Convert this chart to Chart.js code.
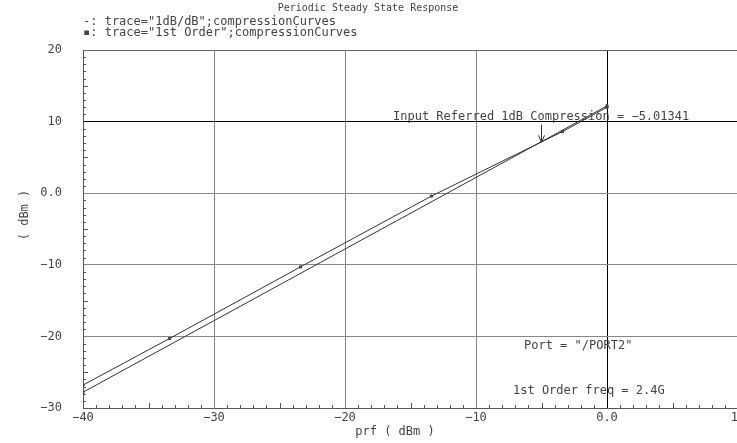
<!DOCTYPE html>
<html lang="en">
<head>
<meta charset="UTF-8">
<title>Periodic Steady State Response</title>
<style>
  html, body { margin: 0; padding: 0; background: #fff; overflow: hidden; }
  #wrap { width: 743px; height: 443px; position: relative; }
</style>
<script src="https://cdn.jsdelivr.net/npm/chart.js"></script>
</head>
<body>
<div id="wrap"><canvas id="pssChart"></canvas></div>
<script>
// prf (dBm) -> output (dBm)
const prfFirstOrder = [-40, -33.4, -23.4, -13.4, -3.4, 0];
const outFirstOrder = [-26.8, -20.3, -10.3, -0.4, 8.6, 12.0];
const prfRef = [-40, 0];
const outRef = [-27.8, 12.2];
const xTicks = [-40, -30, -20, -10, 0, 10];
const yTicks = [-30, -20, -10, 0, 10, 20];
const compressionIn = -5.01341;
const compressionOut = 7.1;

const titleText = 'Periodic Steady State Response';
const legendLines = ['-: trace="1dB/dB";compressionCurves', '▪: trace="1st Order";compressionCurves'];
const compLabel = 'Input Referred 1dB Compression = −5.01341';
const portLabel = 'Port = "/PORT2"';
const freqLabel = '1st Order freq = 2.4G';
const xTitle = 'prf ( dBm )';
const yTitle = '( dBm )';

const mono = 'DejaVu Sans Mono';
const textColor = '#444';

function fmtTick(v) {
    if (v === 0) return '0.0';
    return (v < 0 ? '−' : '') + Math.abs(v);
}

// minor ticks, annotations and labels drawn on top
const overlayPlugin = {
    id: 'overlay',
    afterDraw(chart) {
        const { ctx, chartArea, scales } = chart;
        const xs = scales.x, ys = scales.y;
        ctx.save();

        ctx.strokeStyle = '#555';
        ctx.lineWidth = 1;
        ctx.beginPath();
        for (let v = xs.min + 1; v < xs.max; v++) {
            if (v % 10 === 0) continue;
            const px = Math.round(xs.getPixelForValue(v)) + 0.5;
            const len = v % 5 === 0 ? 5 : 3;
            ctx.moveTo(px, chartArea.bottom);
            ctx.lineTo(px, chartArea.bottom - len);
        }
        for (let v = ys.min + 1; v < ys.max; v++) {
            if (v % 10 === 0) continue;
            const py = Math.round(ys.getPixelForValue(v)) + 0.5;
            const len = v % 5 === 0 ? 5 : 3;
            ctx.moveTo(chartArea.left, py);
            ctx.lineTo(chartArea.left + len, py);
        }
        ctx.stroke();

        // compression arrow
        const ax = Math.round(xs.getPixelForValue(compressionIn)) + 0.5;
        const ay1 = ys.getPixelForValue(10) + 3;
        const ay2 = ys.getPixelForValue(compressionOut);
        ctx.strokeStyle = '#333';
        ctx.beginPath();
        ctx.moveTo(ax, ay1);
        ctx.lineTo(ax, ay2);
        ctx.moveTo(ax - 3, ay2 - 7);
        ctx.lineTo(ax, ay2);
        ctx.lineTo(ax + 3, ay2 - 7);
        ctx.stroke();

        ctx.fillStyle = textColor;
        ctx.textBaseline = 'middle';

        ctx.font = '10px "' + mono + '"';
        ctx.textAlign = 'center';
        ctx.fillText(titleText, 368, 8);

        ctx.font = '12px "' + mono + '"';
        ctx.textAlign = 'left';
        ctx.fillText(legendLines[0], 83, 22);
        ctx.fillText(legendLines[1], 83, 33);
        ctx.fillText(compLabel, 393, 117);
        ctx.fillText(portLabel, 524, 346);
        ctx.fillText(freqLabel, 513, 391);

        ctx.textAlign = 'center';
        ctx.fillText(xTitle, 395, 432);
        ctx.translate(25, 215);
        ctx.rotate(-Math.PI / 2);
        ctx.fillText(yTitle, 0, 0);

        ctx.restore();
    }
};

const tickFont = { family: mono, size: 12 };

new Chart(document.getElementById('pssChart'), {
    type: 'scatter',
    data: {
        datasets: [
            {
                label: '1dB/dB',
                data: prfRef.map((x, i) => ({ x: x, y: outRef[i] })),
                showLine: true,
                borderColor: '#333',
                borderWidth: 1,
                pointStyle: 'rect',
                pointRadius: 1.5,
                pointBackgroundColor: '#777',
                pointBorderColor: '#333',
                pointBorderWidth: 1
            },
            {
                label: '1st Order',
                data: prfFirstOrder.map((x, i) => ({ x: x, y: outFirstOrder[i] })),
                showLine: true,
                borderColor: '#333',
                borderWidth: 1,
                pointStyle: 'rect',
                pointRadius: 1.5,
                pointBackgroundColor: '#777',
                pointBorderColor: '#333',
                pointBorderWidth: 1
            }
        ]
    },
    options: {
        responsive: true,
        maintainAspectRatio: false,
        animation: false,
        layout: { padding: { top: 50, right: 0, left: 0, bottom: 0 } },
        plugins: {
            legend: { display: false },
            tooltip: { enabled: false },
            title: { display: false }
        },
        scales: {
            x: {
                type: 'linear',
                min: -40,
                max: 10,
                afterBuildTicks: s => { s.ticks = xTicks.map(v => ({ value: v })); },
                afterFit: s => { s.height = 35; s.paddingLeft = 0; s.paddingRight = 0; },
                ticks: { font: tickFont, color: textColor, padding: 3, maxRotation: 0, autoSkip: false, callback: fmtTick },
                grid: {
                    drawTicks: false,
                    lineWidth: 1,
                    color: c => c.tick.value === 0 ? '#000' : (c.tick.value === -40 ? 'rgba(0,0,0,0)' : '#888')
                },
                border: { display: true, color: '#555' }
            },
            y: {
                type: 'linear',
                min: -30,
                max: 20,
                afterBuildTicks: s => { s.ticks = yTicks.map(v => ({ value: v })); },
                afterFit: s => { s.width = 83; },
                ticks: { font: tickFont, color: textColor, padding: 21, autoSkip: false, callback: fmtTick },
                grid: {
                    drawTicks: false,
                    lineWidth: 1,
                    color: c => c.tick.value === 10 ? '#000' : (c.tick.value === -30 ? 'rgba(0,0,0,0)' : (c.tick.value === 20 ? '#666' : '#888'))
                },
                border: { display: true, color: '#555' }
            }
        }
    },
    plugins: [overlayPlugin]
});
</script>
</body>
</html>
